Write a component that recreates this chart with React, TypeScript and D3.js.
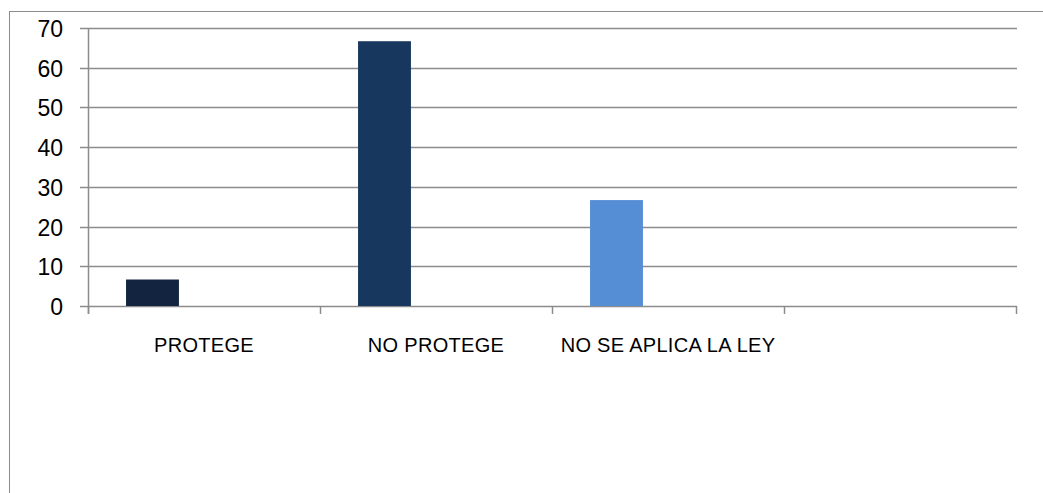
import React from "react";
import * as d3 from "d3";

const categories = ["PROTEGE", "NO PROTEGE", "NO SE APLICA LA LEY", ""];
const values = [6.67, 66.67, 26.67, null];
const barColors = ["#12243f", "#17375e", "#558ed5", "#558ed5"];
const yTicks = [0, 10, 20, 30, 40, 50, 60, 70];

export default function App() {
  const W = 1043, H = 493;
  const x = d3.scaleBand<string>().domain(categories.map((c, i) => String(i))).range([88, 1016]).padding(0);
  const y = d3.scaleLinear().domain([0, 70]).range([306, 28]);
  const bw = x.bandwidth();
  const font = "'Liberation Sans', Arial, sans-serif";
  const gridColor = "#8c8c8c";
  return (
    <svg width={W} height={H} style={{ position: "absolute", left: 0, top: 0 }}>
      <rect x={0} y={0} width={W} height={H} fill="#fff" />
      <rect x={9.5} y={11.5} width={W + 10} height={H + 10} fill="none" stroke="#8c8c8c" strokeWidth={1} />
      {yTicks.map((t) => (
        <g key={t}>
          <line x1={80} x2={1017} y1={Math.round(y(t)) + 0.5} y2={Math.round(y(t)) + 0.5} stroke={gridColor} strokeWidth={1.5} />
          <text x={63} y={y(t) + 1} dy="0.35em" textAnchor="end" fontFamily={font} fontSize={23} fill="#000">{t}</text>
        </g>
      ))}
      <line x1={88.5} x2={88.5} y1={y(70)} y2={314} stroke={gridColor} strokeWidth={1.5} />
      {[0, 1, 2, 3, 4].map((i) => {
        const xp = 88 + i * bw;
        return <line key={i} x1={xp + 0.5} x2={xp + 0.5} y1={306} y2={314} stroke={gridColor} strokeWidth={1.5} />;
      })}
      {categories.map((c, i) => {
        const v = values[i];
        const bx = (x(String(i)) as number) + bw * 0.164;
        return (
          <g key={i}>
            {v != null && (
              <rect x={bx} y={y(v)} width={bw * 0.228} height={y(0) - y(v)} fill={barColors[i]} />
            )}
            <text x={(x(String(i)) as number) + bw / 2} y={352} textAnchor="middle" fontFamily={font} fontSize={20} letterSpacing={0.3} fill="#000">{c}</text>
          </g>
        );
      })}
    </svg>
  );
}
